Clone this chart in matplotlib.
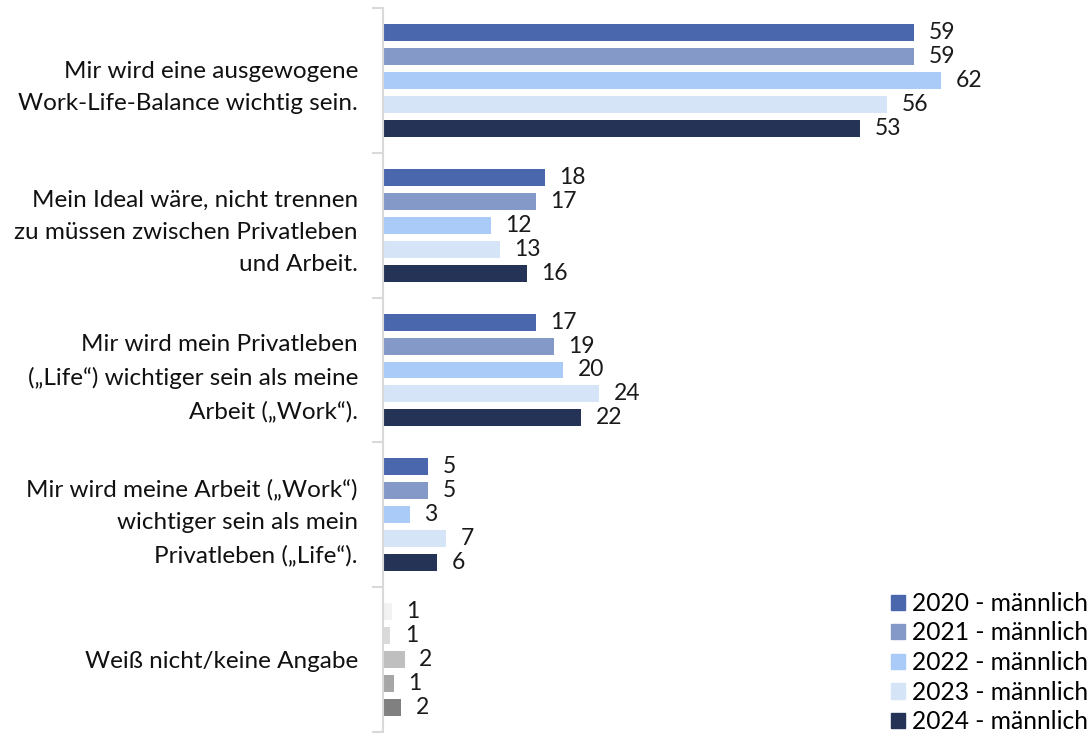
import numpy as np
import matplotlib.pyplot as plt
from matplotlib.patches import Patch

plt.rcParams['font.family'] = ['Lato', 'DejaVu Sans']

# Data
categories = [
    "Mir wird eine ausgewogene\nWork-Life-Balance wichtig sein.",
    "Mein Ideal wäre, nicht trennen\nzu müssen zwischen Privatleben\nund Arbeit.",
    "Mir wird mein Privatleben\n(„Life“) wichtiger sein als meine\nArbeit („Work“).",
    "Mir wird meine Arbeit („Work“)\nwichtiger sein als mein\nPrivatleben („Life“).",
    "Weiß nicht/keine Angabe",
]
years = ["2020 - männlich", "2021 - männlich", "2022 - männlich",
         "2023 - männlich", "2024 - männlich"]
v2020 = [59, 18, 17, 5, 1.0]
v2021 = [59, 17, 19, 5, 0.8]
v2022 = [62, 12, 20, 3, 2.4]
v2023 = [56, 13, 24, 7, 1.2]
v2024 = [53, 16, 22, 6, 2.0]
series = [v2020, v2021, v2022, v2023, v2024]

colors = ["#4A67AE", "#8599C8", "#AACBF7", "#D5E4F6", "#253356"]
grays = ["#F2F2F2", "#D9D9D9", "#BFBFBF", "#A6A6A6", "#808080"]

fig = plt.figure(figsize=(10.92, 7.37), dpi=100)
ax = fig.add_axes([383 / 1092, 5 / 737, 652 / 1092, 724 / 737])

n = len(categories)
pitch = 0.1655
height = 0.117
for j, vals in enumerate(series):
    for i, v in enumerate(vals):
        y = i + (j - 2) * pitch
        c = grays[j] if i == n - 1 else colors[j]
        ax.barh(y, v, height=height, color=c)
        ax.text(v + 1.6, y, f"{v:.0f}", va="center", ha="left",
                fontsize=16.5, color="#1a1a1a")

ax.set_ylim(n - 0.5, -0.5)
ax.set_xlim(0, 72.4)
ax.set_yticks(np.arange(n + 1) - 0.5)
ax.set_yticklabels([])
ax.set_yticks(np.arange(n), minor=True)
ax.set_yticklabels(categories, minor=True, fontsize=17.5, color="#111111",
                   ha="right", linespacing=1.65)
ax.tick_params(axis="y", which="major", length=8, color="#D9D9D9", width=1.5)
ax.tick_params(axis="y", which="minor", length=0, pad=18)
ax.set_xticks([])
for s in ["top", "right", "bottom"]:
    ax.spines[s].set_visible(False)
ax.spines["left"].set_color("#D9D9D9")
ax.spines["left"].set_linewidth(1.5)

handles = [Patch(color=c) for c in colors]
fig.legend(handles, years, loc="lower right", bbox_to_anchor=(1.0, 0.0),
           frameon=False, fontsize=17.7, handlelength=0.57, handleheight=0.57,
           handletextpad=0.3, labelspacing=0.27, borderpad=0.15,
           borderaxespad=0.0)

fig.savefig("out.png", dpi=100)
